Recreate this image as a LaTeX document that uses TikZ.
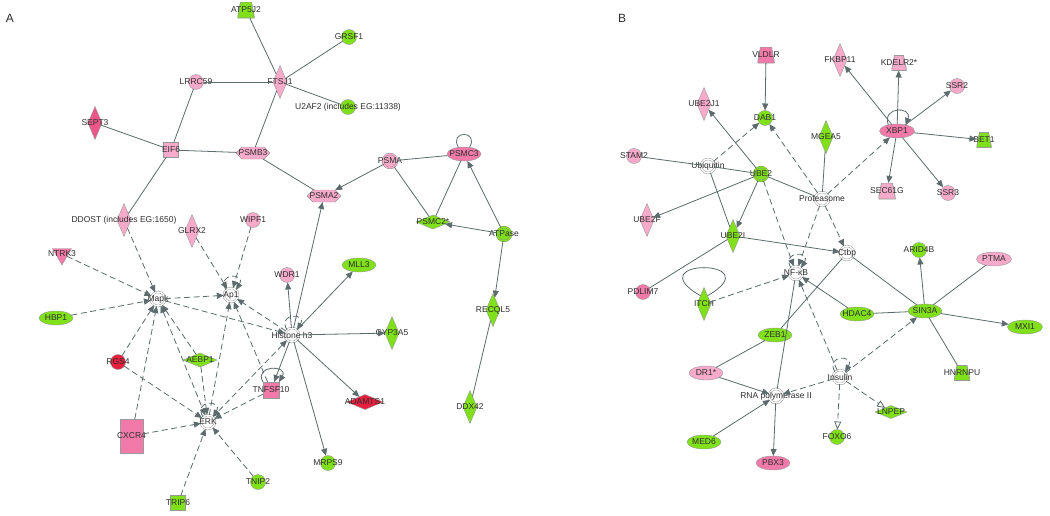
\documentclass[tikz,border=0pt]{standalone}
\usepackage{fontspec}
\setmainfont{Liberation Sans}
\usetikzlibrary{arrows.meta,shapes.geometric,shapes.symbols}
\definecolor{IpaGreen}{HTML}{80E01A}
\definecolor{IpaPink}{HTML}{F8AACB}
\definecolor{IpaRose}{HTML}{F27AA8}
\definecolor{IpaDeep}{HTML}{EC5688}
\definecolor{IpaRed}{HTML}{E8203F}
\definecolor{IpaEdge}{HTML}{5C6B6B}
\definecolor{IpaInk}{HTML}{2E2E2E}
\tikzset{
  ipabase/.style={
    draw=black!40,
    line width=.4pt,
    inner sep=0pt,
    outer sep=0pt
  },
  gene/.style={label={[font=\fontsize{8.5}{9}\selectfont,text=IpaInk,inner sep=0pt]center:{#1}}},
  ipacircle/.style={ipabase,shape=circle,minimum size=15pt},
  ipaoval/.style={ipabase,shape=ellipse,minimum width=34pt,minimum height=14pt},
  ipatall/.style={ipabase,shape=diamond,minimum width=14pt,minimum height=33pt},
  ipawide/.style={ipabase,shape=diamond,minimum width=34pt,minimum height=14pt},
  ipahex/.style={ipabase,shape=signal,signal to=east and west,minimum width=34pt,minimum height=12pt},
  ipasquare/.style={ipabase,shape=rectangle,minimum size=15pt},
  ipatrap/.style={
    shape=rectangle,
    inner sep=0pt,
    outer sep=0pt,
    minimum width=17pt,
    minimum height=16pt,
    path picture={\filldraw[draw=black!40,fill=#1,line width=.8pt]
      ([xshift=3pt]path picture bounding box.north west) -- ([xshift=-3pt]path picture bounding box.north east)
      -- (path picture bounding box.south east) -- (path picture bounding box.south west) -- cycle;}
  },
  ipatri/.style={ipabase,shape=regular polygon,regular polygon sides=3,shape border rotate=180,minimum size=22pt},
  ipagroup/.style={
    shape=circle,
    draw=black!45,
    line width=.4pt,
    double=white,
    double distance=1.4pt,
    fill=white,
    minimum size=14pt,
    inner sep=0pt
  },
  link/.style={draw=IpaEdge,line width=.8pt},
  act/.style={link,-{Triangle[length=7pt,width=6pt]}},
  ilink/.style={link,dash pattern=on 6pt off 3.5pt},
  iact/.style={ilink,-{Triangle[length=7pt,width=6pt]}},
  iboth/.style={ilink,{Triangle[length=7pt,width=6pt]}-{Triangle[length=7pt,width=6pt]}},
  iopen/.style={ilink,-{Triangle[open,length=8pt,width=7pt]}}
}
\begin{document}
\begin{tikzpicture}[x=1pt,y=-1pt]
    \useasboundingbox[fill=white] (0,0) rectangle (1050,515);
    \node[font=\fontsize{12}{12}\selectfont,text=IpaInk] (panela) at (10,18) {A};
    \node[font=\fontsize{12}{12}\selectfont,text=IpaInk] (panelb) at (622,18) {B};

    \node[ipatrap=IpaGreen,gene=ATP5J2] (atpj) at (246,10) {};
    \node[ipacircle,fill=IpaGreen,gene=GRSF1] (grsf) at (349,37) {};
    \node[ipatall,fill=IpaPink,gene=FTSJ1] (ftsj) at (280,82) {};
    \node[ipacircle,fill=IpaGreen,gene={U2AF2 (includes EG:11338)}] (utwo) at (348,107) {};
    \node[ipacircle,fill=IpaPink,gene=LRRC59] (lrrc) at (196,82) {};
    \node[ipatall,fill=IpaDeep,gene=SEPT3] (sept) at (95,123) {};
    \node[ipasquare,fill=IpaPink,gene=EIF6] (eifs) at (171,150) {};
    \node[ipahex,fill=IpaPink,gene=PSMB3] (psmb) at (253,153) {};
    \node[ipagroup,fill=IpaPink,double=IpaPink,gene=PSMA] (psma) at (390,161) {};
    \node[ipaoval,fill=IpaRose,gene=PSMC3] (psmc) at (464,154) {};
    \node[ipahex,fill=IpaPink,gene=PSMA2] (psmatwo) at (324,196) {};
    \node[ipawide,fill=IpaGreen,gene=PSMC2*] (psmctwo) at (433,222) {};
    \node[ipagroup,fill=IpaGreen,double=IpaGreen,gene=ATPase] (atpase) at (504,234) {};
    \node[ipatall,fill=IpaGreen,gene=RECQL5] (recq) at (493,310) {};
    \node[ipatall,fill=IpaGreen,gene=CYP3A5] (cyp) at (392,333) {};
    \node[ipaoval,fill=IpaGreen,gene=MLL3] (mll) at (359,265) {};
    \node[ipacircle,fill=IpaPink,gene=WDR1] (wdr) at (287,275) {};
    \node[ipagroup,gene=Histone h3] (hist) at (292,335) {};
    \node[ipacircle,fill=IpaPink,gene=WIPF1] (wipf) at (253,220) {};
    \node[ipatall,fill=IpaPink,gene=GLRX2] (glrx) at (192,231) {};
    \node[ipatall,fill=IpaPink,gene={DDOST (includes EG:1650)}] (ddost) at (124,220) {};
    \node[ipatri,fill=IpaRose,gene=NTRK3] (ntrk) at (62,254) {};
    \node[ipagroup,gene=Mapk] (mapk) at (158,299) {};
    \node[ipagroup,gene=Ap1] (apone) at (231,295) {};
    \node[ipaoval,fill=IpaGreen,gene=HBP1] (hbp) at (56,318) {};
    \node[ipacircle,fill=IpaRed,gene=RGS4] (rgs) at (118,362) {};
    \node[ipawide,fill=IpaGreen,gene=AEBP1] (aebp) at (200,360) {};
    \node[ipabase,shape=rectangle,fill=IpaRose,minimum width=23pt,minimum height=34pt,gene=CXCR4] (cxcr) at (131.5,436) {};
    \node[ipagroup,gene=ERK] (erk) at (208,422) {};
    \node[ipasquare,fill=IpaRose,minimum size=16pt,gene=TNFSF10] (tnfsf) at (271,390) {};
    \node[ipawide,fill=IpaRed,minimum width=36pt,minimum height=15pt,gene=ADAMTS1] (adam) at (365,402) {};
    \node[ipatall,fill=IpaGreen,gene=DDX42] (ddx) at (470,407) {};
    \node[ipacircle,fill=IpaGreen,gene=MRPS9] (mrps) at (328,463) {};
    \node[ipacircle,fill=IpaGreen,gene=TNIP2] (tnip) at (258,482) {};
    \node[ipasquare,fill=IpaGreen,gene=TRIP6] (trip) at (178,503) {};

    \draw[link] (atpj) -- (ftsj);
    \draw[link] (grsf) -- (ftsj);
    \draw[link] (ftsj) -- (utwo);
    \draw[link] (lrrc) -- (ftsj);
    \draw[link] (ftsj) -- (psmb);
    \draw[link] (lrrc) -- (eifs);
    \draw[link] (sept) -- (eifs);
    \draw[link] (eifs) -- (psmb);
    \draw[link] (eifs) -- (ddost);
    \draw[link] (psmb) -- (psmatwo);
    \draw[act] (psma) -- (psmatwo);
    \draw[link] (psmc) -- (psma);
    \draw[link] (psmc.130) to[out=120,in=60,min distance=20pt] (psmc.50);
    \draw[link] (psma) -- (psmctwo);
    \draw[link] (psmc) -- (psmctwo);
    \draw[act] (atpase) -- (psmc);
    \draw[act] (atpase) -- (psmctwo);
    \draw[act] (atpase) -- (recq);
    \draw[link] (recq) -- (ddx);
    \draw[act] (hist) -- (psmatwo);
    \draw[act] (hist) -- (wdr);
    \draw[act] (hist) -- (mll);
    \draw[act] (hist) -- (cyp);
    \draw[act] (hist) -- (adam);
    \draw[act] (hist) -- (mrps);
    \draw[act] (hist) -- (tnfsf);
    \draw[act] (tnfsf.north west) to[out=120,in=60,min distance=20pt] (tnfsf.north east);
    \draw[iact] (hist.135) to[out=120,in=60,min distance=20pt] (hist.45);
    \draw[iact] (apone.135) to[out=120,in=60,min distance=20pt] (apone.45);
    \draw[iact] (erk.135) to[out=120,in=60,min distance=20pt] (erk.45);
    \draw[iact] (ddost) -- (mapk);
    \draw[iact] (ntrk) -- (mapk);
    \draw[iact] (hbp) -- (mapk);
    \draw[iact] (glrx) -- (apone);
    \draw[iact] (wipf) -- (apone);
    \draw[iact] (mapk) -- (apone);
    \draw[iact] (hist) -- (apone);
    \draw[iact] (mapk) -- (hist);
    \draw[iact] (rgs) -- (mapk);
    \draw[iact] (rgs) -- (erk);
    \draw[iact] (cxcr) -- (mapk);
    \draw[iact] (cxcr) -- (erk);
    \draw[iact] (aebp) -- (mapk);
    \draw[iact] (aebp) -- (erk);
    \draw[iboth] (mapk) -- (erk);
    \draw[iact] (erk) -- (apone);
    \draw[iact] (tnfsf) -- (apone);
    \draw[iact] (tnfsf) -- (erk);
    \draw[iboth] (hist) -- (erk);
    \draw[iact] (tnip) -- (erk);
    \draw[iact] (trip) -- (erk);

    \node[ipatrap=IpaRose,gene=VLDLR] (vldlr) at (766,55) {};
    \node[ipacircle,fill=IpaGreen,gene=DAB1] (dab) at (765,118) {};
    \node[ipatall,fill=IpaPink,gene=UBE2J1] (ubejone) at (704,104) {};
    \node[ipacircle,fill=IpaPink,gene=STAM2] (stam) at (634,156) {};
    \node[ipagroup,gene=Ubiquitin] (ubiq) at (708,166) {};
    \node[ipagroup,fill=IpaGreen,double=IpaGreen,gene=UBE2] (ubetwo) at (761,174) {};
    \node[ipagroup,gene=Proteasome] (prot) at (822,199) {};
    \node[ipatall,fill=IpaGreen,gene=MGEA5] (mgea) at (826,137) {};
    \node[ipatall,fill=IpaPink,gene=FKBP11] (fkbp) at (840,60) {};
    \node[ipatrap=IpaPink,minimum width=15pt,minimum height=15pt,gene=KDELR2*] (kdelr) at (899,63) {};
    \node[ipacircle,fill=IpaPink,gene=SSR2] (ssrtwo) at (957,86) {};
    \node[ipaoval,fill=IpaRose,minimum width=35pt,gene=XBP1] (xbp) at (897,131) {};
    \node[ipatrap=IpaGreen,minimum width=15pt,minimum height=15pt,gene=BET1] (bet) at (984,140) {};
    \node[ipatrap=IpaPink,gene=SEC61G] (sec) at (887,191) {};
    \node[ipacircle,fill=IpaPink,gene=SSR3] (ssrthree) at (948,193) {};
    \node[ipatall,fill=IpaPink,gene=UBE2F] (ubef) at (647,220) {};
    \node[ipatall,fill=IpaGreen,gene=UBE2I] (ubei) at (733,236) {};
    \node[ipagroup,gene=NF-κB] (nfkb) at (796,273) {};
    \node[ipagroup,gene=Ctbp] (ctbp) at (847,253) {};
    \node[ipacircle,fill=IpaGreen,gene=ARID4B] (arid) at (919,250) {};
    \node[ipaoval,fill=IpaPink,minimum width=35pt,gene=PTMA] (ptma) at (994,259) {};
    \node[ipacircle,fill=IpaRose,gene=PDLIM7] (pdlim) at (643,292) {};
    \node[ipatall,fill=IpaGreen,gene=ITCH] (itch) at (704,304) {};
    \node[ipaoval,fill=IpaGreen,gene=HDAC4] (hdac) at (857,314) {};
    \node[ipaoval,fill=IpaGreen,gene=SIN3A] (sin) at (925,311) {};
    \node[ipaoval,fill=IpaGreen,minimum width=35pt,gene=MXI1] (mxi) at (1025,327) {};
    \node[ipaoval,fill=IpaGreen,gene=ZEB1] (zeb) at (775,335) {};
    \node[ipaoval,fill=IpaPink,gene=DR1*] (dr) at (706,373) {};
    \node[ipagroup,gene=Insulin] (insulin) at (840,377) {};
    \node[ipagroup,gene=RNA polymerase II] (rnap) at (776,396) {};
    \node[ipatrap=IpaGreen,minimum width=16pt,minimum height=15pt,gene=HNRNPU] (hnrnpu) at (962,373) {};
    \node[ipawide,fill=IpaGreen,minimum width=32pt,minimum height=13pt,gene=LNPEP] (lnpep) at (891,412) {};
    \node[ipacircle,fill=IpaGreen,gene=FOXO6] (foxo) at (837,437) {};
    \node[ipaoval,fill=IpaGreen,gene=MED6] (med) at (704,442) {};
    \node[ipaoval,fill=IpaRose,gene=PBX3] (pbx) at (773,463) {};

    \draw[act] (vldlr) -- (dab);
    \draw[iact] (ubiq) -- (dab);
    \draw[iact] (prot) -- (dab);
    \draw[act] (ubetwo) -- (ubejone);
    \draw[link] (stam) -- (ubiq);
    \draw[link] (ubiq) -- (ubetwo);
    \draw[act] (ubetwo) -- (ubef);
    \draw[link] (ubetwo) -- (prot);
    \draw[link] (prot) -- (mgea);
    \draw[link] (ubiq) -- (ubei);
    \draw[act] (ubetwo) -- (ubei);
    \draw[iact] (ubetwo) -- (nfkb);
    \draw[iact] (prot) -- (nfkb);
    \draw[iact] (prot) -- (xbp);
    \draw[iact] (prot) -- (ctbp);
    \draw[act] (ubei) -- (ctbp);
    \draw[link] (ubei) -- (pdlim);
    \draw[link] (itch.north west) to[out=150,in=30,min distance=75pt] (itch.north east);
    \draw[iact] (itch) -- (nfkb);
    \draw[iact] (nfkb.135) to[out=120,in=60,min distance=20pt] (nfkb.45);
    \draw[link] (nfkb) -- (rnap);
    \draw[act] (hdac) -- (nfkb);
    \draw[iact] (insulin) -- (nfkb);
    \draw[link] (zeb) -- (ctbp);
    \draw[link] (zeb) -- (dr);
    \draw[link] (ctbp) -- (sin);
    \draw[link] (hdac) -- (sin);
    \draw[act] (sin) -- (arid);
    \draw[link] (sin) -- (ptma);
    \draw[act] (sin) -- (mxi);
    \draw[link] (sin) -- (hnrnpu);
    \draw[iact] (insulin) -- (sin);
    \draw[iact] (insulin.135) to[out=120,in=60,min distance=20pt] (insulin.45);
    \draw[iact] (insulin) -- (rnap);
    \draw[iopen] (insulin) -- (foxo);
    \draw[iopen] (insulin) -- (lnpep);
    \draw[act] (dr) -- (rnap);
    \draw[act] (med) -- (rnap);
    \draw[act] (rnap) -- (pbx);
    \draw[act] (xbp) -- (fkbp);
    \draw[act] (xbp) -- (kdelr);
    \draw[act] (xbp) -- (ssrtwo);
    \draw[act] (xbp) -- (bet);
    \draw[act] (xbp) -- (sec);
    \draw[act] (xbp) -- (ssrthree);
    \draw[act] (xbp.145) to[out=110,in=70,min distance=20pt] (xbp.35);
  \end{tikzpicture}
\end{document}
